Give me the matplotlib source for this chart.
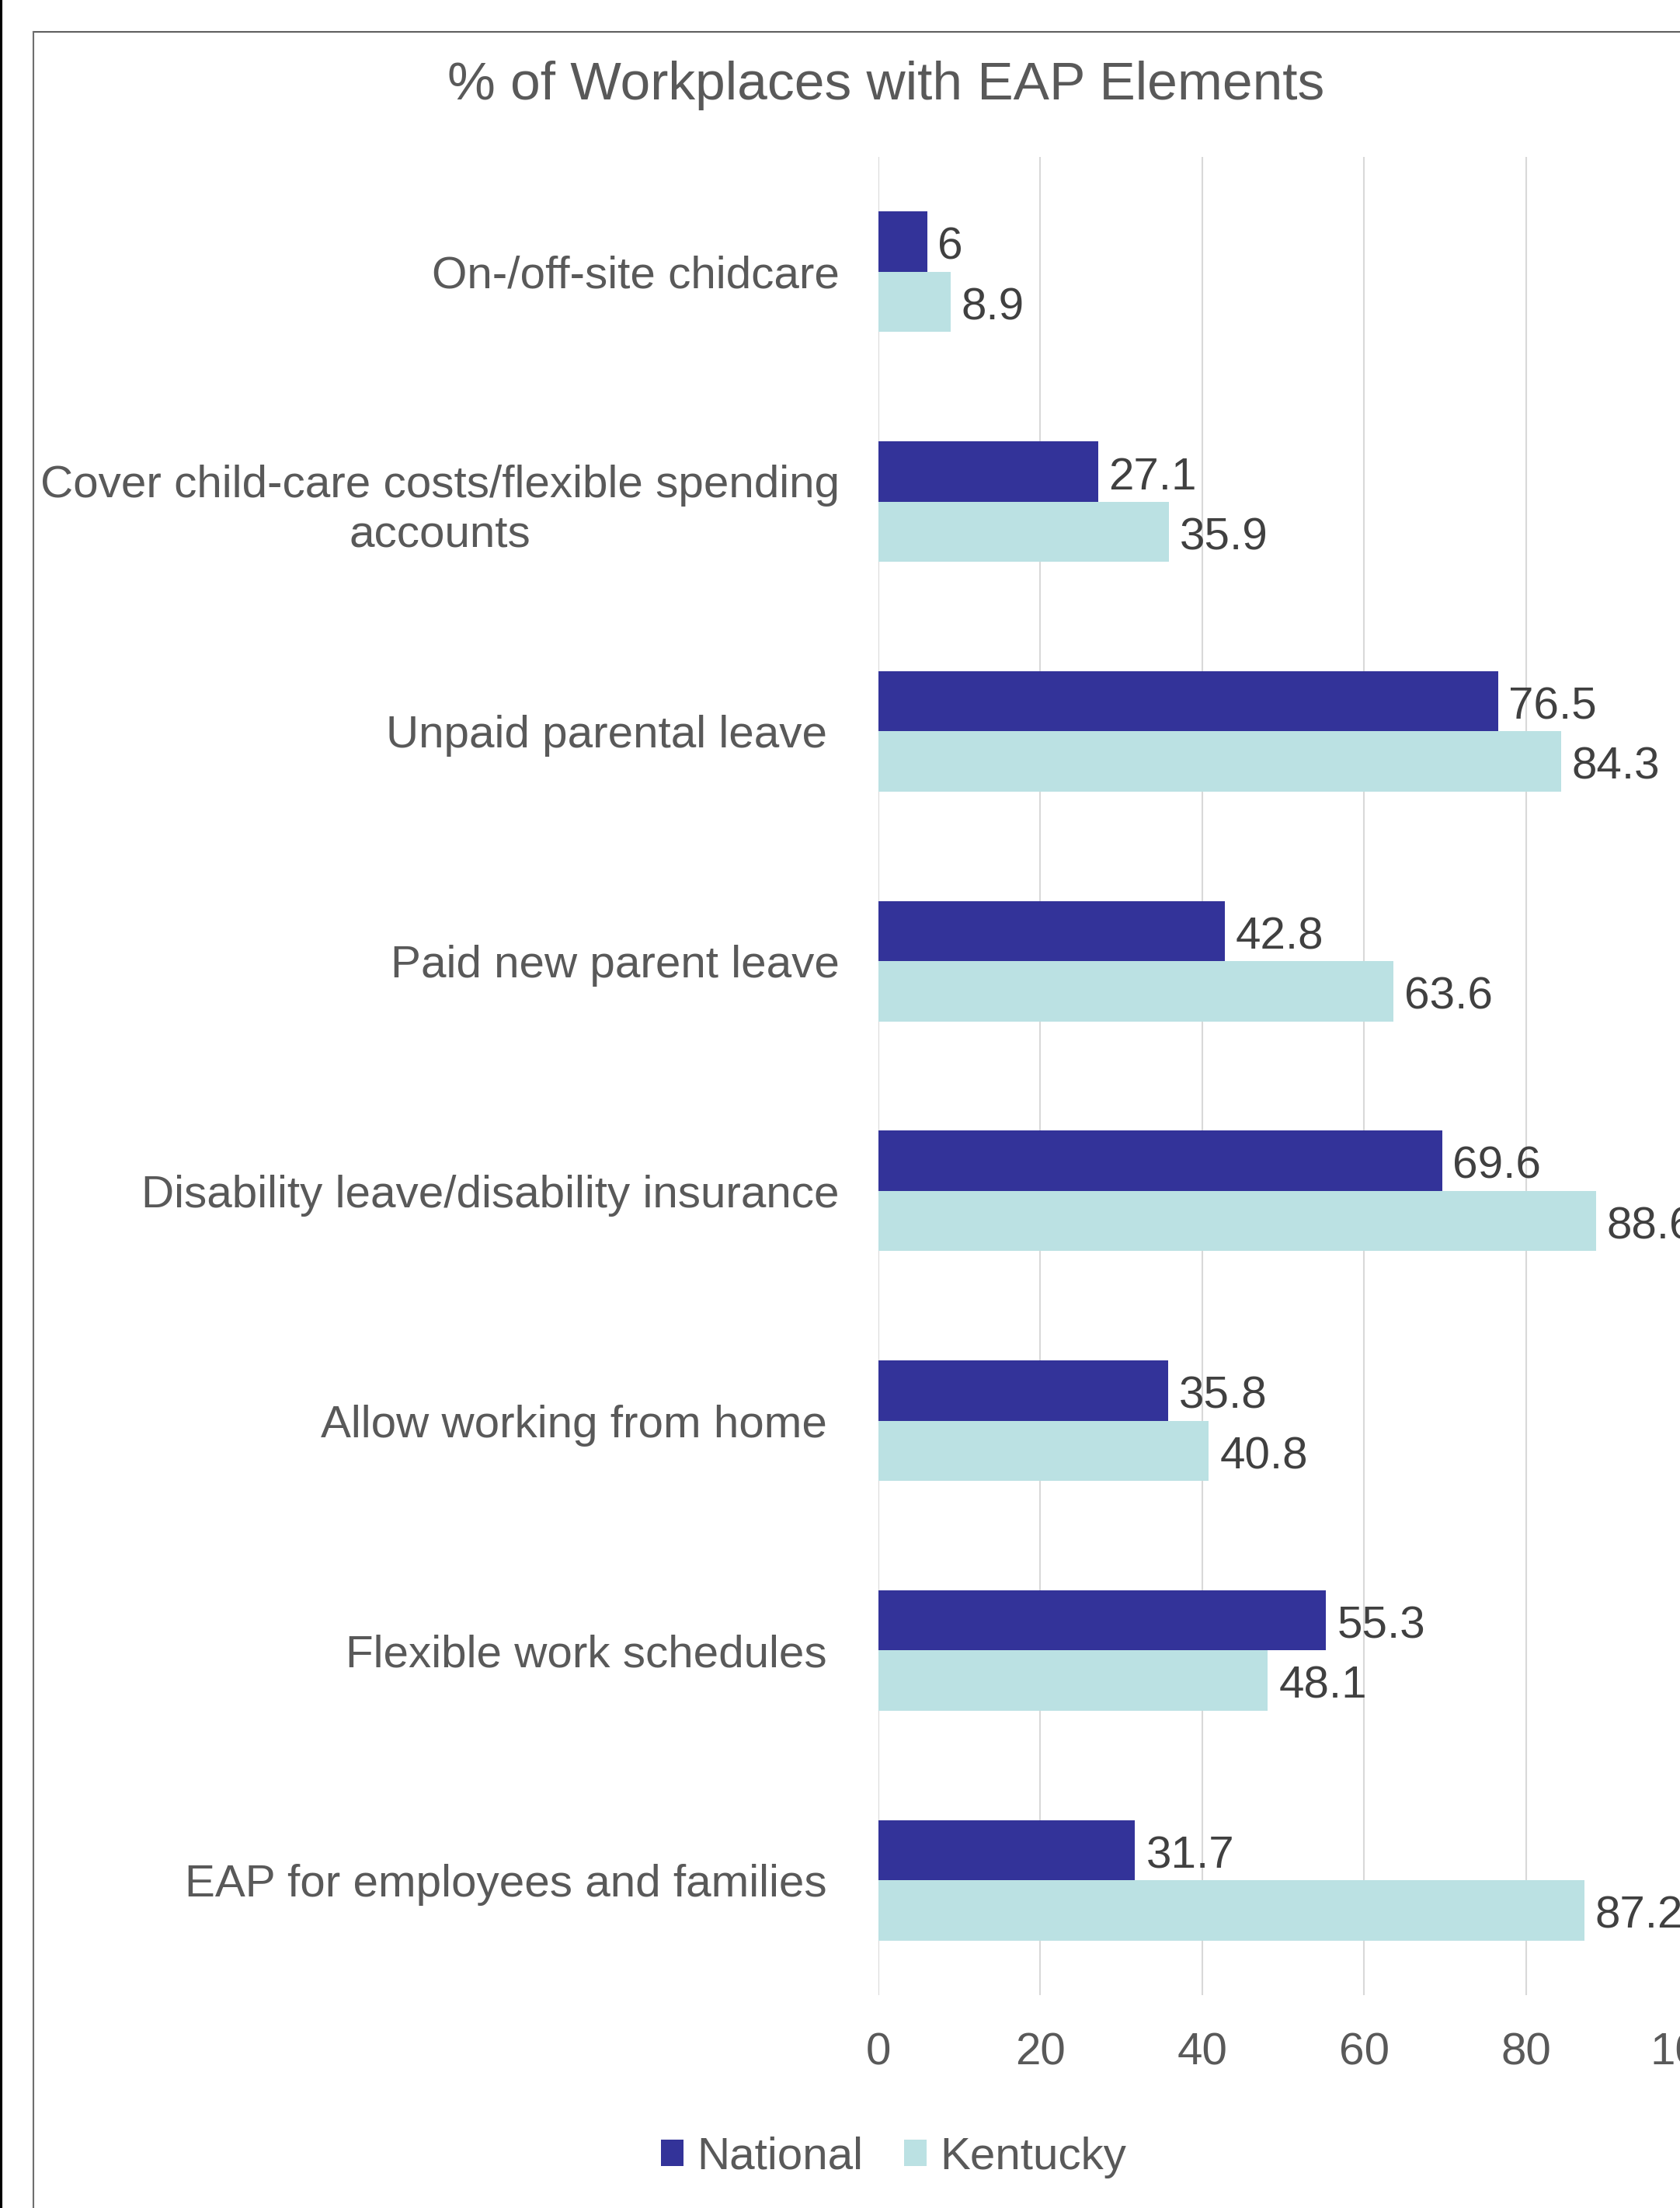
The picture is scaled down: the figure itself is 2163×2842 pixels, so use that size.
import numpy as np
import matplotlib
matplotlib.use("Agg")
import matplotlib.pyplot as plt
from matplotlib.lines import Line2D

plt.rcParams['font.family'] = ['Liberation Sans', 'DejaVu Sans']

# data, top to bottom as in the chart
categories = [
    "On-/off-site chidcare",
    "Cover child-care costs/flexible spending\naccounts",
    "Unpaid parental leave ",
    "Paid new parent leave",
    "Disability leave/disability insurance",
    "Allow working from home ",
    "Flexible work schedules ",
    "EAP for employees and families ",
]
national = [6, 27.1, 76.5, 42.8, 69.6, 35.8, 55.3, 31.7]
kentucky = [8.9, 35.9, 84.3, 63.6, 88.6, 40.8, 48.1, 87.2]
xticks = [0, 20, 40, 60, 80, 100]

c_nat = '#333399'
c_ky = '#BBE1E3'
grey = '#595959'

fig = plt.figure(figsize=(21.63, 28.42), dpi=100)
ax = fig.add_axes([0.52288, 0.09641, 0.48197, 0.83251])

y = np.arange(len(categories))
h = 0.262
b1 = ax.barh(y - h / 2, national, height=h, color=c_nat, linewidth=0, label='National', zorder=3)
b2 = ax.barh(y + h / 2, kentucky, height=h, color=c_ky, linewidth=0, label='Kentucky', zorder=3)

# value labels, nudged down a little so the digits sit centred on the bars
for bars, vals in ((b1, national), (b2, kentucky)):
    anns = ax.bar_label(bars, labels=[f'{v:g}' for v in vals], padding=10,
                        fontsize=42, color='#404040')
    for a in anns:
        a.xyann = (10, -5.5)

ax.set_xlim(0, 100)
ax.set_ylim(len(categories) - 0.5, -0.5)
ax.set_xticks(xticks)
ax.set_yticks(y)
ax.set_yticklabels(categories)
for lab in ax.get_yticklabels():
    lab.set_multialignment('center')
    lab.set_linespacing(1.24)
ax.tick_params(axis='y', length=0, pad=36, labelsize=42, labelcolor=grey)
ax.tick_params(axis='x', length=0, pad=34, labelsize=42, labelcolor=grey)
ax.grid(axis='x', color='#D9D9D9', linewidth=1.5, zorder=0)
ax.set_axisbelow(True)
for s in ax.spines.values():
    s.set_visible(False)

fig.text(0.5275, 0.9613, '% of Workplaces with EAP Elements', ha='center', va='center',
         fontsize=50, color=grey)

fig.legend(handles=[b1, b2], labels=['National', 'Kentucky'], loc='center',
           bbox_to_anchor=(0.532, 0.023), ncol=2, frameon=False, fontsize=42,
           labelcolor=grey, handlelength=0.5, handleheight=0.5, handletextpad=0.3,
           columnspacing=0.9)

# chart frame (cropped on the right and bottom) and the dark edge on the left
W, H = 2163, 2842
fig.add_artist(Line2D([43 / W, 1.0], [1 - 41 / H, 1 - 41 / H], color='#5f5f5f', linewidth=1.5))
fig.add_artist(Line2D([43 / W, 43 / W], [0.0, 1 - 41 / H], color='#6f6f6f', linewidth=1.5))
fig.add_artist(Line2D([1 / W, 1 / W], [0.0, 1.0], color='black', linewidth=2.2))

fig.savefig('out.png', dpi=100)
